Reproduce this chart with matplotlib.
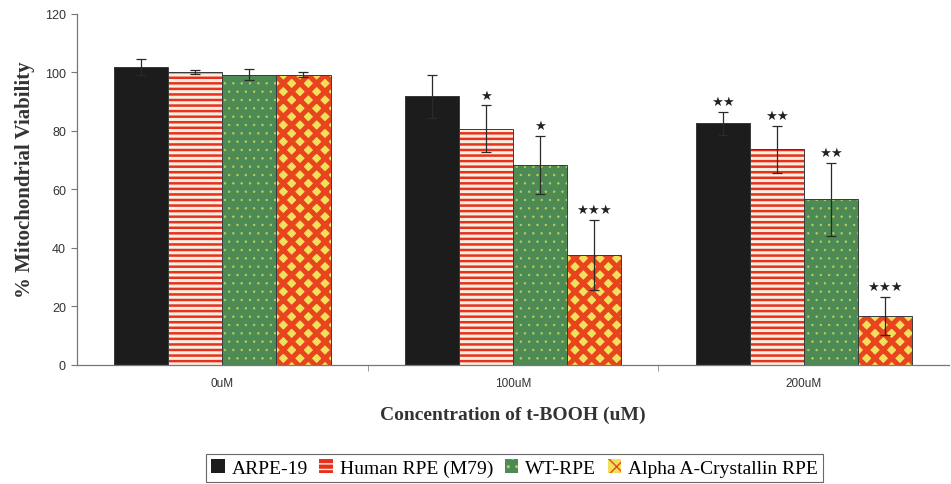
import numpy as np
import matplotlib.pyplot as plt

categories = ['0uM', '100uM', '200uM']
series = ['ARPE-19', 'Human RPE (M79)', 'WT-RPE', 'Alpha A-Crystallin RPE']

arpe19 = [101.9, 91.8, 82.6]
human_rpe = [100.2, 80.8, 73.8]
wt_rpe = [99.3, 68.4, 56.6]
alpha_rpe = [99.3, 37.6, 16.8]

arpe19_err = [2.8, 7.2, 4.0]
human_rpe_err = [0.7, 8.0, 8.0]
wt_rpe_err = [1.8, 10.0, 12.6]
alpha_rpe_err = [0.8, 12.0, 6.6]

arpe19_sig = ['', '', '**']
human_rpe_sig = ['', '*', '**']
wt_rpe_sig = ['', '*', '**']
alpha_rpe_sig = ['', '***', '***']

values = [arpe19, human_rpe, wt_rpe, alpha_rpe]
errors = [arpe19_err, human_rpe_err, wt_rpe_err, alpha_rpe_err]
sigs = [arpe19_sig, human_rpe_sig, wt_rpe_sig, alpha_rpe_sig]

# face colour, hatch, hatch colour, hatch linewidth
styles = [
    ('#1c1c1c', None, '#1c1c1c', 1.0),
    ('#e8301c', '---', '#f6f0e2', 2.2),
    ('#4e8a53', '..', '#b9cf5a', 0.5),
    ('#f1e05c', 'xx', '#e8441e', 3.6),
]

fig = plt.figure(figsize=(9.51, 4.85), dpi=100)
ax = fig.add_axes([0.081, 0.2454, 0.917, 0.7237])

x = np.arange(len(categories))
width = 0.186
offsets = (np.arange(4) - 1.5) * width

handles = []
for i in range(4):
    face, hatch, hcol, hlw = styles[i]
    with plt.rc_context({'hatch.linewidth': hlw}):
        bars = ax.bar(x + offsets[i], values[i], width, color=face,
                      hatch=hatch, edgecolor=hcol, linewidth=0, zorder=2)
    for b in bars:
        if hasattr(b, 'set_hatch_linewidth'):
            b.set_hatch_linewidth(hlw)
    ax.bar(x + offsets[i], values[i], width, fill=False,
           edgecolor='#3a3a3a', linewidth=0.7, zorder=3)
    ax.errorbar(x + offsets[i], values[i], yerr=errors[i], fmt='none',
                ecolor='#2a2a2a', elinewidth=0.9, capsize=3.5,
                capthick=0.9, zorder=4)
    for j in range(len(categories)):
        if sigs[i][j]:
            ax.annotate('\u2605' * len(sigs[i][j]),
                        (x[j] + offsets[i], values[i][j] + errors[i][j]),
                        xytext=(0, 2.5), textcoords='offset points',
                        ha='center', va='bottom', fontsize=9.5,
                        color='#222222', family=['DejaVu Sans'])
    handles.append(bars)

ax.set_xlim(-0.5, 2.5)
ax.set_ylim(0, 120)
ax.set_yticks(np.arange(0, 121, 20))
ax.set_xticks(x)
ax.set_xticklabels(categories, fontsize=8.5, color='#333333',
                   family='Liberation Sans')
ax.set_xticks([0.5, 1.5], minor=True)
ax.tick_params(axis='x', which='major', length=0, pad=9)
ax.tick_params(axis='x', which='minor', length=4, color='#888888',
               direction='out')
ax.tick_params(axis='y', length=4, color='#777777', labelsize=9,
               labelcolor='#333333', pad=4)
for lab in ax.get_yticklabels():
    lab.set_family('Liberation Sans')

for s in ['top', 'right']:
    ax.spines[s].set_visible(False)
ax.spines['left'].set_color('#777777')
ax.spines['bottom'].set_color('#777777')
ax.spines['left'].set_linewidth(0.9)
ax.spines['bottom'].set_linewidth(0.9)

ax.set_ylabel('% Mitochondrial Viability', fontsize=15, fontweight='bold',
              family='Liberation Serif', color='#333333')
ax.yaxis.set_label_coords(-0.048, 0.53)
ax.set_xlabel('Concentration of t-BOOH (uM)', fontsize=14,
              fontweight='bold', family='Liberation Serif',
              color='#333333')
ax.xaxis.set_label_coords(0.5, -0.115)

leg = fig.legend(handles, series, loc='center', bbox_to_anchor=(0.541, 0.033),
                 ncol=4, frameon=True, fancybox=False, edgecolor='#444444',
                 prop={'family': 'Liberation Serif', 'size': 14},
                 handlelength=0.7, handleheight=0.7, handletextpad=0.35,
                 columnspacing=0.6, borderpad=0.25, borderaxespad=0)
leg.get_frame().set_linewidth(0.8)

fig.savefig('out.png', dpi=100)
